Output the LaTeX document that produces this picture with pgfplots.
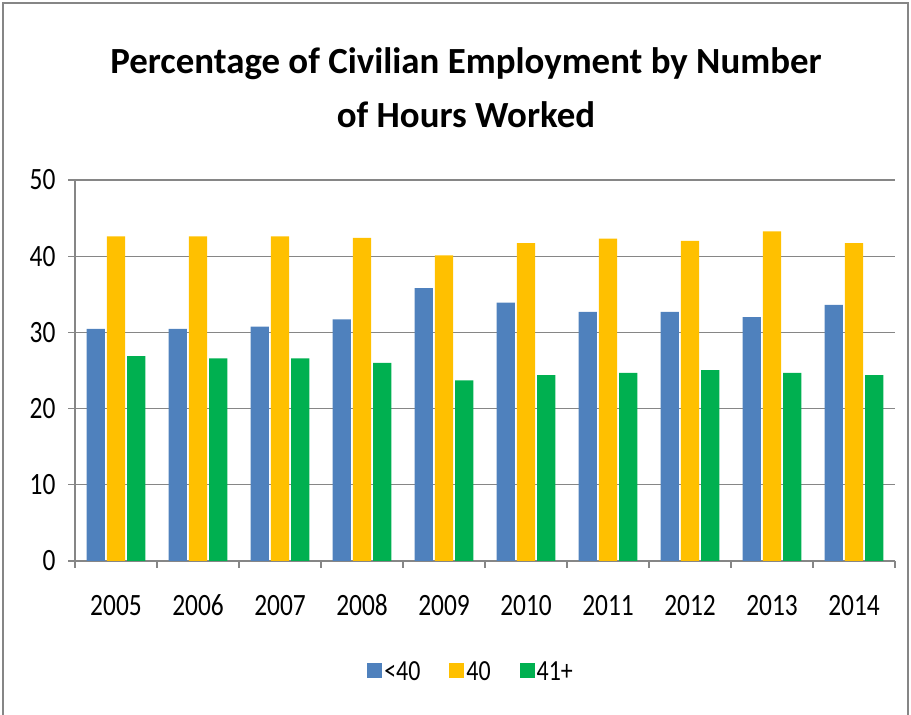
\documentclass[border=0pt]{standalone}
\usepackage{pgfplots}
\pgfplotsset{compat=1.18}
\usepackage{fontspec}
\setmainfont{Carlito}
\definecolor{cblue}{HTML}{4F81BD}
\definecolor{cyellow}{HTML}{FFC000}
\definecolor{cgreen}{HTML}{00B050}
\definecolor{gridg}{HTML}{868686}
\newcommand{\ST}[1]{\scalebox{1}[1.22]{#1}}
\begin{document}
\begin{tikzpicture}[x=1bp,y=1bp]
\useasboundingbox (0,0) rectangle (911,715);
\draw[gridg, line width=1.5bp] (3,-10) -- (3,712) -- (908,712) -- (908,-10);
\node[font=\fontsize{37}{54}\selectfont\bfseries, align=center] at (466,627) {Percentage of Civilian Employment by Number\\of Hours Worked};
\begin{axis}[
  at={(75bp,154bp)}, anchor=south west,
  width=820bp, height=381bp, scale only axis,
  ybar, bar width=18.3bp, bar shift auto,
  xmin=-0.5, xmax=9.5, ymin=0, ymax=50,
  ytick={0,10,...,50},
  yticklabels={\ST{0},\ST{10},\ST{20},\ST{30},\ST{40},\ST{50}},
  xtick={0,...,9},
  xticklabels={\ST{2005},\ST{2006},\ST{2007},\ST{2008},\ST{2009},\ST{2010},\ST{2011},\ST{2012},\ST{2013},\ST{2014}},
  minor xtick={-0.5,0.5,...,9.5},
  axis x line*=bottom, axis y line*=left,
  axis line style={gridg, line width=1.2bp},
  ymajorgrids, major grid style={gridg, line width=1.2bp},
  tick align=outside,
  major tick length=7bp, minor tick length=7bp,
  major x tick style={draw=none},
  tick style={gridg, line width=1.2bp},
  minor tick style={gridg, line width=1.2bp},
  ticklabel style={font=\fontsize{25.5}{28}\selectfont},
  xticklabel style={anchor=base, yshift=-48bp},
  yticklabel style={xshift=-9bp},
  legend style={at={(0.483,-0.29)}, anchor=center, draw=none, fill=none,
    font=\fontsize{24}{27}\selectfont,
    /tikz/every even column/.append style={column sep=27bp}},
  legend columns=-1,
  legend image code/.code={\fill[#1] (0bp,-7bp) rectangle (15bp,8bp);},
]
\addplot[fill=cblue, draw=none] coordinates {(0,30.45) (1,30.45) (2,30.75) (3,31.7) (4,35.8) (5,33.9) (6,32.7) (7,32.7) (8,32.0) (9,33.6)};
\addplot[fill=cyellow, draw=none] coordinates {(0,42.6) (1,42.6) (2,42.6) (3,42.4) (4,40.1) (5,41.7) (6,42.3) (7,42.0) (8,43.25) (9,41.7)};
\addplot[fill=cgreen, draw=none] coordinates {(0,26.9) (1,26.6) (2,26.6) (3,26.0) (4,23.7) (5,24.4) (6,24.7) (7,25.05) (8,24.7) (9,24.4)};
\legend{\ST{<40},\ST{40},\ST{41+}}
\end{axis}
\end{tikzpicture}
\end{document}
